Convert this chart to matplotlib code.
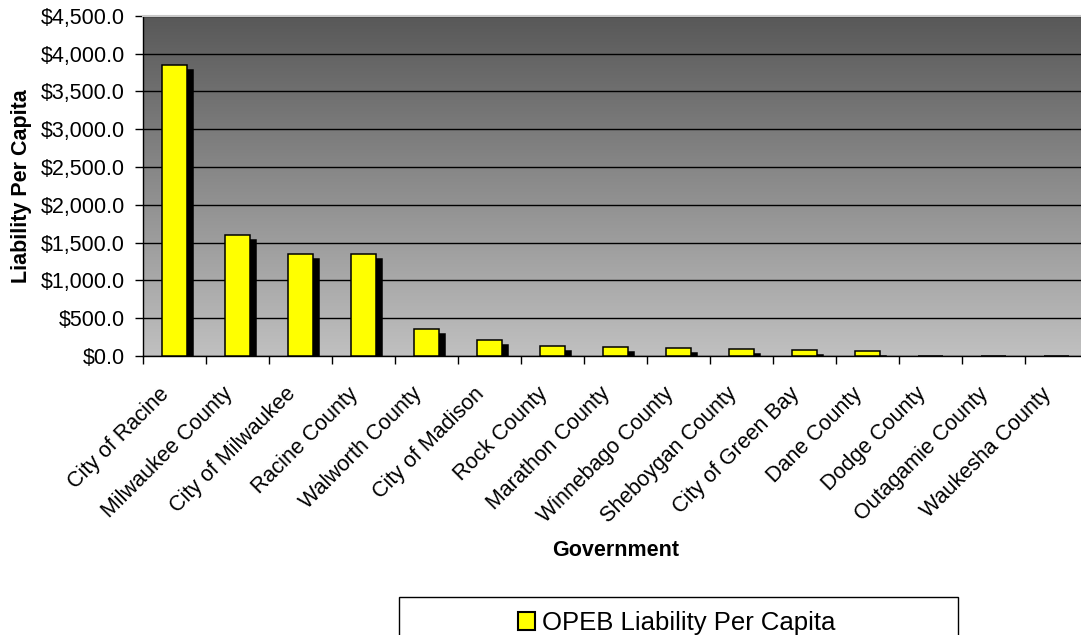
import matplotlib
matplotlib.use("Agg")
import matplotlib.pyplot as plt
import matplotlib.transforms as mtransforms
from matplotlib.colors import LinearSegmentedColormap
from matplotlib.patches import Rectangle
import numpy as np

plt.rcParams['font.family'] = ['Liberation Sans', 'DejaVu Sans']

categories = ["City of Racine", "Milwaukee County", "City of Milwaukee", "Racine County",
              "Walworth County", "City of Madison", "Rock County", "Marathon County",
              "Winnebago County", "Sheboygan County", "City of Green Bay", "Dane County",
              "Dodge County", "Outagamie County", "Waukesha County"]
values = [3850, 1595, 1353, 1343, 358, 212, 137, 115, 102, 89, 84, 66, 0, 0, 0]
yticks = [0, 500, 1000, 1500, 2000, 2500, 3000, 3500, 4000, 4500]
series_name = "OPEB Liability Per Capita"

W, H = 1081, 635
fig = plt.figure(figsize=(W / 100, H / 100), dpi=100)
left_px, right_px, top_px, bot_px = 142.7, 1087.7, 15.7, 356.0
ax = fig.add_axes([left_px / W, 1 - bot_px / H, (right_px - left_px) / W, (bot_px - top_px) / H])

# gradient background
cmap = LinearSegmentedColormap.from_list("bg", ["#585858", "#c0c0c0"])
grad = np.linspace(0, 1, 256).reshape(-1, 1)
ax.imshow(grad, cmap=cmap, aspect='auto', extent=[0, 1, 0, 1], transform=ax.transAxes,
          zorder=0, origin='upper')

x = np.arange(len(categories))
shadow_tr = ax.transData + mtransforms.ScaledTranslation(6 / 100, -5 / 100, fig.dpi_scale_trans)
ax.bar(x, values, width=0.4, color='black', edgecolor='black', linewidth=1.1,
       transform=shadow_tr, zorder=2)
ax.bar(x, values, width=0.4, color='#ffff00', edgecolor='black', linewidth=1.1, zorder=3,
       label=series_name)

ax.set_xlim(-0.5, len(categories) - 0.5)
ax.set_ylim(0, 4500)
ax.set_yticks(yticks)
ax.yaxis.set_major_formatter(matplotlib.ticker.StrMethodFormatter('${x:,.1f}'))
ax.yaxis.grid(True, color='black', linewidth=1.0, zorder=1)
ax.set_axisbelow(True)

ax.set_xticks(np.arange(len(categories) + 1) - 0.5)
ax.set_xticklabels([])
ax.set_xticks(x, minor=True)
ax.set_xticklabels(categories, minor=True, rotation=45, ha='right', va='center',
                   rotation_mode='anchor', fontsize=15.5)
ax.tick_params(axis='x', which='minor', length=0, pad=25)
ax.tick_params(axis='x', which='major', length=6, width=1, direction='out')
ax.tick_params(axis='y', length=6, width=1, direction='out', pad=7, labelsize=15.5)

shift = mtransforms.ScaledTranslation(-8 / 100, 0, fig.dpi_scale_trans)
for lbl in ax.get_xticklabels(minor=True):
    lbl.set_transform(lbl.get_transform() + shift)

for s in ['left', 'bottom']:
    ax.spines[s].set_color('black')
    ax.spines[s].set_linewidth(1.0)
ax.spines['top'].set_color('#c8c8c8')
ax.spines['top'].set_linewidth(1.5)
ax.spines['right'].set_visible(False)

ax.set_ylabel("Liability Per Capita", fontsize=15.5, fontweight='bold', va='center')
ax.yaxis.set_label_coords((22 - left_px) / (right_px - left_px), 0.5)
ax.set_xlabel("Government", fontsize=15.5, fontweight='bold', va='center')
ax.xaxis.set_label_coords(0.5, -(550 - bot_px) / (bot_px - top_px))

# legend frame and legend
fig.patches.append(Rectangle((398.6 / W, -0.05), (958 - 398.6) / W, (1 - 597 / H) + 0.05,
                             transform=fig.transFigure, facecolor='white', edgecolor='black',
                             linewidth=1.0, zorder=1))
fig.legend(handles=[Rectangle((0, 0), 1, 1, facecolor='#ffff00', edgecolor='black', linewidth=1.5)],
           labels=[series_name], loc='center', bbox_to_anchor=(677 / W, 1 - 623 / H),
           frameon=False, fontsize=18.5, handlelength=0.65, handleheight=0.65,
           handletextpad=0.27, borderaxespad=0, borderpad=0)

fig.savefig("out.png", dpi=100)
